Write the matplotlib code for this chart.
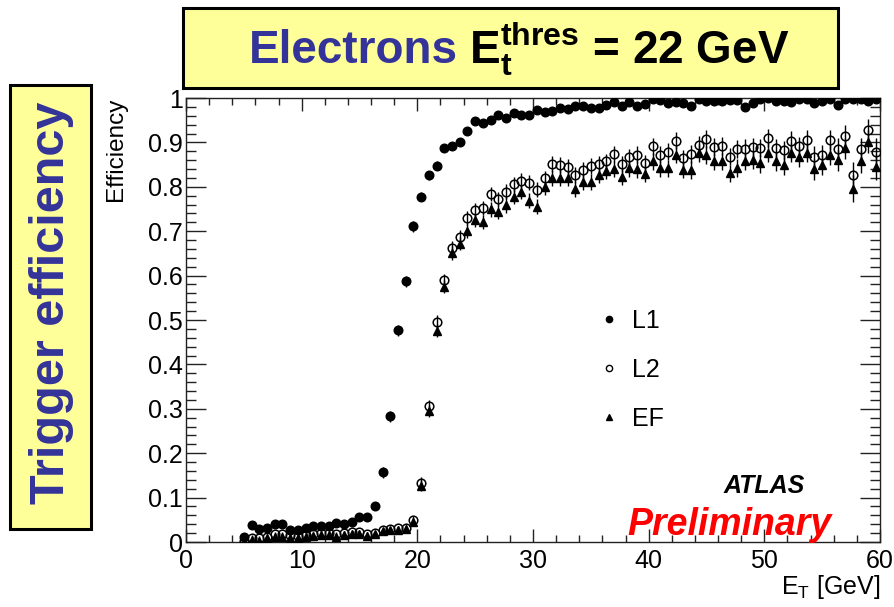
import matplotlib
matplotlib.use("Agg")
import matplotlib.pyplot as plt
from matplotlib.lines import Line2D
from matplotlib.patches import Rectangle
import numpy as np

plt.rcParams['font.family'] = ['Liberation Sans', 'DejaVu Sans']
plt.rcParams['mathtext.fontset'] = 'custom'
plt.rcParams['mathtext.rm'] = 'Liberation Sans'
plt.rcParams['mathtext.bf'] = 'Liberation Sans:bold'

# bin centres, 2/3 GeV bins starting at 5 GeV
ET = np.round(5.0 + np.arange(83) * 2.0 / 3.0, 3)

L1 = [0.011, 0.038, 0.029, 0.032, 0.040, 0.040, 0.027, 0.027, 0.031, 0.036,
      0.035, 0.035, 0.042, 0.041, 0.045, 0.056, 0.056, 0.081, 0.157, 0.283,
      0.477, 0.587, 0.711, 0.778, 0.826, 0.847, 0.887, 0.893, 0.901, 0.925,
      0.948, 0.943, 0.950, 0.962, 0.954, 0.966, 0.962, 0.962, 0.974, 0.968,
      0.970, 0.977, 0.976, 0.981, 0.981, 0.977, 0.978, 0.984, 0.992, 0.983,
      0.990, 0.981, 0.987, 0.997, 0.995, 0.989, 0.992, 0.989, 0.981, 0.998,
      0.994, 0.994, 0.994, 0.996, 0.995, 0.980, 0.989, 0.998, 0.999, 0.994,
      0.993, 0.991, 0.997, 0.997, 0.989, 0.994, 0.998, 0.984, 0.997, 0.998,
      0.998, 0.994, 0.998]

L2 = [0.003, 0.010, 0.008, 0.012, 0.018, 0.017, 0.015, 0.014, 0.016, 0.018,
      0.020, 0.020, 0.017, 0.020, 0.023, 0.022, 0.018, 0.020, 0.027, 0.029,
      0.031, 0.032, 0.050, 0.134, 0.306, 0.496, 0.589, 0.663, 0.688, 0.729,
      0.747, 0.753, 0.783, 0.772, 0.789, 0.806, 0.814, 0.809, 0.793, 0.819,
      0.851, 0.849, 0.845, 0.826, 0.838, 0.847, 0.851, 0.857, 0.873, 0.851,
      0.867, 0.872, 0.853, 0.891, 0.872, 0.879, 0.904, 0.864, 0.874, 0.894,
      0.907, 0.889, 0.892, 0.868, 0.885, 0.886, 0.889, 0.887, 0.910, 0.887,
      0.882, 0.904, 0.891, 0.906, 0.868, 0.872, 0.906, 0.885, 0.915, 0.826,
      0.885, 0.927, 0.879]

EF = [0.001, 0.004, 0.002, 0.008, 0.012, 0.012, 0.010, 0.010, 0.012, 0.014,
      0.016, 0.015, 0.012, 0.015, 0.018, 0.018, 0.014, 0.017, 0.024, 0.026,
      0.028, 0.029, 0.046, 0.127, 0.295, 0.476, 0.575, 0.651, 0.672, 0.700,
      0.726, 0.720, 0.749, 0.744, 0.759, 0.778, 0.789, 0.769, 0.755, 0.799,
      0.819, 0.819, 0.819, 0.794, 0.811, 0.811, 0.826, 0.836, 0.839, 0.823,
      0.842, 0.839, 0.829, 0.857, 0.842, 0.842, 0.872, 0.838, 0.838, 0.876,
      0.872, 0.857, 0.857, 0.830, 0.842, 0.858, 0.860, 0.853, 0.877, 0.857,
      0.849, 0.877, 0.867, 0.877, 0.839, 0.849, 0.872, 0.860, 0.887, 0.796,
      0.857, 0.902, 0.845]

L1_err = [0.006, 0.006, 0.006, 0.006, 0.006, 0.006, 0.006, 0.006, 0.006, 0.006,
          0.006, 0.006, 0.006, 0.006, 0.006, 0.006, 0.006, 0.010, 0.012, 0.012,
          0.012, 0.012, 0.012, 0.010, 0.010, 0.010, 0.008, 0.008, 0.008, 0.007,
          0.006, 0.006, 0.006, 0.006, 0.006, 0.005, 0.005, 0.005, 0.005, 0.005,
          0.005, 0.004, 0.004, 0.004, 0.004, 0.004, 0.004, 0.004, 0.004, 0.004,
          0.004, 0.004, 0.004, 0.004, 0.004, 0.004, 0.004, 0.004, 0.004, 0.004,
          0.004, 0.004, 0.004, 0.004, 0.004, 0.004, 0.004, 0.004, 0.004, 0.004,
          0.004, 0.004, 0.004, 0.004, 0.004, 0.004, 0.004, 0.004, 0.004, 0.004,
          0.004, 0.004, 0.004]

L2_err = [0.005, 0.005, 0.005, 0.005, 0.005, 0.005, 0.005, 0.005, 0.005, 0.005,
          0.005, 0.005, 0.005, 0.005, 0.005, 0.005, 0.005, 0.005, 0.005, 0.005,
          0.006, 0.006, 0.008, 0.012, 0.014, 0.015, 0.015, 0.015, 0.015, 0.016,
          0.016, 0.016, 0.016, 0.016, 0.017, 0.017, 0.017, 0.017, 0.017, 0.017,
          0.018, 0.018, 0.018, 0.018, 0.018, 0.018, 0.018, 0.018, 0.018, 0.018,
          0.019, 0.019, 0.019, 0.019, 0.019, 0.019, 0.019, 0.019, 0.020, 0.020,
          0.020, 0.020, 0.020, 0.020, 0.020, 0.021, 0.021, 0.021, 0.021, 0.021,
          0.022, 0.022, 0.022, 0.022, 0.023, 0.023, 0.023, 0.024, 0.024, 0.030,
          0.025, 0.025, 0.030]

EF_err = L2_err

fig = plt.figure(figsize=(8.95, 6.07), dpi=100)
ax = fig.add_axes([186/895, 1-542/607, 694/895, 444/607])

ax.errorbar(ET, L1, yerr=L1_err, fmt='o', ms=6.2, color='black',
            elinewidth=1, capsize=0, zorder=3)
ax.errorbar(ET, L2, yerr=L2_err, fmt='o', ms=6.2, mfc='none', mec='black',
            mew=1.1, ecolor='black', elinewidth=1, capsize=0, zorder=4)
ax.errorbar(ET, EF, yerr=EF_err, fmt='^', ms=5.5, color='black',
            elinewidth=1, capsize=0, zorder=5)

ax.set_xlim(0, 60)
ax.set_ylim(0, 1)
ax.set_xticks([0, 10, 20, 30, 40, 50, 60])
ax.set_xticks(np.arange(0, 61, 2), minor=True)
ax.set_yticks([0, 0.1, 0.2, 0.3, 0.4, 0.5, 0.6, 0.7, 0.8, 0.9, 1])
ax.set_yticklabels(['0', '0.1', '0.2', '0.3', '0.4', '0.5', '0.6', '0.7', '0.8', '0.9', '1'])
ax.set_yticks(np.arange(0, 1.001, 0.02), minor=True)

for s in ax.spines.values():
    s.set_linewidth(1.0)
    s.set_color('#222222')
ax.tick_params(axis='x', which='major', direction='in', top=True, length=9.5,
               width=1, labelsize=18, pad=5, color='#222222')
ax.tick_params(axis='x', which='minor', direction='in', top=True, length=5,
               width=1, color='#222222')
ax.tick_params(axis='y', which='major', direction='in', right=True, length=14.5,
               width=1, labelsize=18, pad=2, color='#222222')
ax.tick_params(axis='y', which='minor', direction='in', right=True, length=7,
               width=1, color='#222222')

ax.set_ylabel('Efficiency', fontsize=17.5, loc='top')
ax.yaxis.set_label_coords(-0.085, 1.0)
ax.set_xlabel(r'E$_\mathrm{T}$ [GeV]', fontsize=18, loc='right', labelpad=0)

handles = [
    Line2D([], [], marker='o', ls='none', ms=4.5, color='black'),
    Line2D([], [], marker='o', ls='none', ms=4.5, mfc='none', mec='black', mew=1),
    Line2D([], [], marker='^', ls='none', ms=4.5, color='black'),
]
ax.legend(handles, ['L1', 'L2', 'EF'], loc='upper left',
          bbox_to_anchor=((597 - 186) / 694, 1 - (309 - 98) / 444),
          frameon=False, fontsize=18, handlelength=1.0, handletextpad=0.4,
          labelspacing=1.0, borderaxespad=0, borderpad=0)

fig.text(764/895, 1-493/607, 'ATLAS', ha='center', va='baseline',
         fontsize=18, fontweight='bold', fontstyle='italic', color='black')
fig.text(729/895, 1-535/607, 'Preliminary', ha='center', va='baseline',
         fontsize=27, fontweight='bold', fontstyle='italic', color='#FF0000')

# title box
fig.patches.append(Rectangle((183/895, 1-88/607), 655/895, 80/607,
                             transform=fig.transFigure, fc='#FFFF99',
                             ec='black', lw=2.2, zorder=0))
fig.text(458/895, 1-63/607, 'Electrons', ha='right', va='baseline',
         fontsize=33, fontweight='bold', color='#333399')
fig.text(469/895, 1-63/607, r'$\mathbf{E_t^{thres}}$ = 22 GeV', ha='left',
         va='baseline', fontsize=33, fontweight='bold', color='black')

# side box
fig.patches.append(Rectangle((10/895, 1-529/607), 81/895, 444/607,
                             transform=fig.transFigure, fc='#FFFF99',
                             ec='black', lw=2.2, zorder=0))
fig.text(52/895, 1-303/607, 'Trigger efficiency', ha='center', va='center',
         rotation=90, fontsize=35, fontweight='bold', color='#333399')

fig.savefig('out.png', dpi=100)
